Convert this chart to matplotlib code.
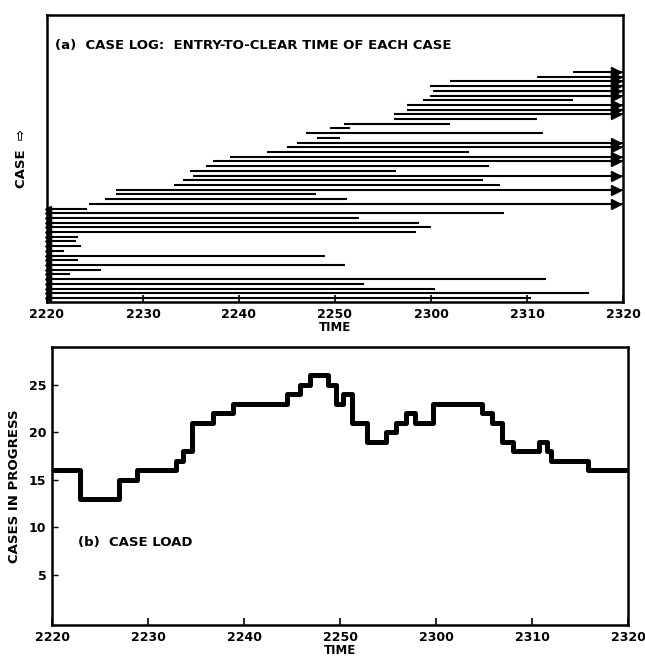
import matplotlib
matplotlib.use("Agg")
import matplotlib.pyplot as plt
import numpy as np

# ---------------- data ----------------
tick_minutes = [0, 10, 20, 30, 40, 50, 60]
tick_labels = ["2220", "2230", "2240", "2250", "2300", "2310", "2320"]

# case log (in log order, bottom row first): entry / clear time in minutes after 22:20
# entry 0 = already in progress at 2220, clear 60 = still open at 2320
case_entry = [0, 0, 0, 0, 0, 0, 0, 0, 0, 0,
              0, 0, 0, 0, 0, 0, 0, 0, 0, 0,
              4.4, 6.0, 7.2, 7.2, 13.2,
              14.2, 15.2, 14.9, 16.6, 17.3, 19.1, 22.9, 25.0, 26.0, 28.1,
              27.0, 29.5, 30.9, 36.1, 36.1, 37.5, 37.5, 39.2, 39.9, 40.2,
              39.9, 42.0, 51.0, 54.8]
case_clear = [50.4, 56.5, 40.4, 33.0, 52.0, 2.4, 5.6, 31.0, 3.2, 29.0,
              1.8, 3.5, 3.0, 3.2, 38.4, 40.0, 38.8, 32.5, 47.6, 4.2,
              60, 31.2, 28.0, 60, 47.2,
              45.4, 60, 36.4, 46.0, 60, 60, 44.0, 60, 60, 30.5,
              51.7, 31.6, 42.0, 51.0, 60, 60, 60, 54.8, 60, 60,
              60, 60, 60, 60]

# case load step function
load_times = [0, 2.9, 7.0, 8.9, 12.9, 13.6, 14.6, 16.8, 18.9, 24.5, 25.8, 26.9, 28.8, 29.6,
              30.3, 31.2, 32.8, 34.8, 35.8, 36.9, 37.8, 39.7, 44.8, 45.8, 46.9, 48.0,
              50.7, 51.6, 52.0, 55.8, 60]
load_values = [16, 13, 15, 16, 17, 18, 21, 22, 23, 24, 25, 26, 25, 23,
               24, 21, 19, 20, 21, 22, 21, 23, 22, 21, 19, 18,
               19, 18, 17, 16, 16]
load_yticks = [5, 10, 15, 20, 25]

# ---------------- figure ----------------
plt.rcParams['font.family'] = ['DejaVu Sans']
plt.rcParams['font.weight'] = 'bold'
fig = plt.figure(figsize=(6.45, 6.61), dpi=100)

W, H = 645.0, 661.0
ax1 = fig.add_axes([47 / W, 1 - 302 / H, 576 / W, 287 / H])
ax2 = fig.add_axes([52 / W, 1 - 625 / H, 576 / W, 278 / H])

for ax in (ax1, ax2):
    for s in ax.spines.values():
        s.set_linewidth(1.8)
        s.set_color('black')
    ax.set_xlim(0, 60)
    ax.set_xticks(tick_minutes)
    ax.set_xticklabels(tick_labels, fontsize=9, fontweight='bold')
    ax.tick_params(axis='x', direction='in', length=5, width=1.2, pad=4)
    ax.set_xlabel("TIME", fontsize=8.5, fontweight='bold', labelpad=0)

# ---- (a) case log ----
n = len(case_entry)
rows = np.arange(n)
ax1.hlines(rows, case_entry, case_clear, colors='black', linewidth=1.5)
left_rows = [r for r in rows if case_entry[r] == 0]
right_rows = [r for r in rows if case_clear[r] == 60]
ax1.plot([0.15] * len(left_rows), left_rows, marker='<', color='black', markersize=5,
         linestyle='none', clip_on=False)
ax1.plot([59.3] * len(right_rows), right_rows, marker='>', color='black', markersize=6.5,
         linestyle='none', clip_on=False)
ax1.set_ylim(-0.85, 60.1)
ax1.set_yticks([])
ax1.text(0.014, 0.895, "(a)  CASE LOG:  ENTRY-TO-CLEAR TIME OF EACH CASE", transform=ax1.transAxes,
         fontsize=9.5, fontweight='bold', va='center', ha='left')
ax1.set_ylabel("CASE  \u21e8", fontsize=9.5, fontweight='bold', labelpad=14)

# ---- (b) case load ----
ax2.step(load_times, load_values, where='post', color='black', linewidth=3.6)
ax2.set_ylim(-0.3, 29)
ax2.set_yticks(load_yticks)
ax2.set_yticklabels([str(v) for v in load_yticks], fontsize=9, fontweight='bold')
ax2.tick_params(axis='y', direction='in', length=4, width=1, pad=4)
ax2.set_ylabel("CASES IN PROGRESS", fontsize=9.5, fontweight='bold', labelpad=6)
ax2.text(2.7, 8.4, "(b)  CASE LOAD", fontsize=9.5, fontweight='bold', va='center', ha='left')

fig.savefig("out.png", dpi=100)
